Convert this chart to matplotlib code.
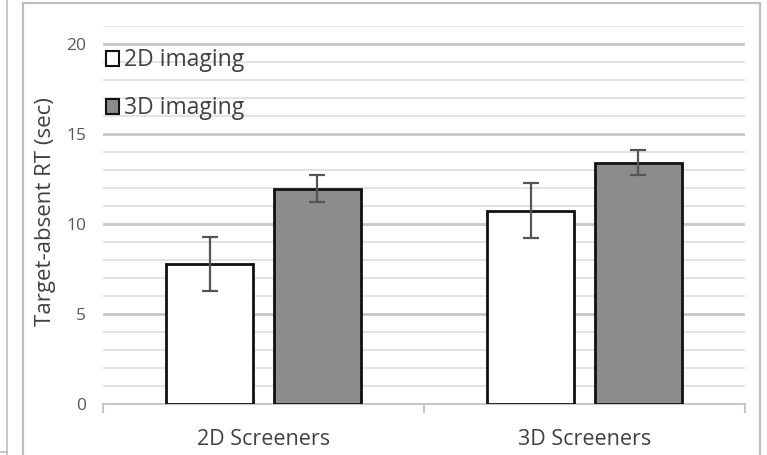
import numpy as np
import matplotlib
matplotlib.use("Agg")
import matplotlib.pyplot as plt
from matplotlib.patches import Rectangle
from matplotlib.lines import Line2D

groups = ["2D Screeners", "3D Screeners"]
seriesNames = ["2D imaging", "3D imaging"]
means2D = [7.8, 10.75]
means3D = [11.95, 13.4]
err2D = [1.5, 1.55]
err3D = [0.75, 0.7]
yTicks = [0, 5, 10, 15, 20]

plt.rcParams["font.family"] = ["Open Sans", "DejaVu Sans"]

W, H = 767, 455
fig = plt.figure(figsize=(W / 100, H / 100), dpi=100)

# panel frames
fig.add_artist(Rectangle((23 / W, -0.05), (760 - 23) / W, (H - 3) / H + 0.05,
                         transform=fig.transFigure, fill=False, edgecolor="#bdbdbd", lw=1.6))
fig.add_artist(Line2D([7 / W, 7 / W], [0, 1], transform=fig.transFigure, color="#bdbdbd", lw=1.2))
fig.add_artist(Line2D([0, 7 / W], [3 / H, 3 / H], transform=fig.transFigure, color="#bdbdbd", lw=1.2))

x0, x1, yb, yt = 103, 745, 404, 26
ax = fig.add_axes([x0 / W, 1 - yb / H, (x1 - x0) / W, (yb - yt) / H])

x = np.arange(len(groups))
width = 0.27
offset = 0.168
fills = ["white", "#8c8c8c"]
ekw = dict(ecolor="#555555", elinewidth=1.6, capsize=6, capthick=1.6)
ax.bar(x - offset, means2D, width, yerr=err2D, color=fills[0], edgecolor="#111111",
       linewidth=2, label=seriesNames[0], zorder=3, error_kw=ekw)
ax.bar(x + offset, means3D, width, yerr=err3D, color=fills[1], edgecolor="#111111",
       linewidth=2, label=seriesNames[1], zorder=3, error_kw=ekw)

ax.set_xlim(-0.5, len(groups) - 0.5)
ax.set_ylim(0, 21)
for v in range(1, 22):
    ax.axhline(v, color="#dedede" if v % 5 else "#c8c8c8", lw=1.2 if v % 5 else 2.0, zorder=1)

ax.set_yticks(yTicks)
ax.set_xticks(x)
ax.set_xticklabels(groups, fontsize=15.5, color="#404040")
ax.tick_params(axis="y", length=0, labelsize=12.5, labelcolor="#595959", pad=12)
ax.tick_params(axis="x", length=0, pad=18)
for s in ["top", "right", "left"]:
    ax.spines[s].set_visible(False)
ax.spines["bottom"].set_color("#c8c8c8")
ax.spines["bottom"].set_linewidth(1.5)
for xv in [-0.5, 0.5, 1.5]:
    ax.plot([xv, xv], [0, -0.45], color="#c8c8c8", lw=1.5, clip_on=False, zorder=2)

ax.set_ylabel("Target-absent RT (sec)", fontsize=16, color="#404040")
ax.yaxis.set_label_coords((56 - x0) / (x1 - x0), (yb - 212) / (yb - yt))

handles = [Rectangle((0, 0), 1, 1, facecolor=f, edgecolor="#111111", lw=1.5) for f in fills]
leg = ax.legend(handles, seriesNames, loc="upper left", bbox_to_anchor=(-0.01, 0.965),
                frameon=False, fontsize=16.5, handlelength=0.6, handleheight=0.6,
                handletextpad=0.2, labelspacing=1.05, borderaxespad=0)
for t in leg.get_texts():
    t.set_color("#404040")

fig.savefig("out.png", dpi=100)
